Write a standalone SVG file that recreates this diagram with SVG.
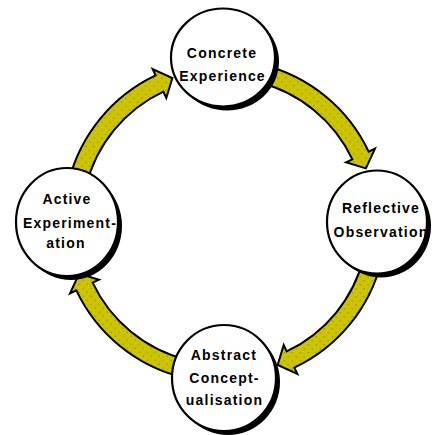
<svg xmlns="http://www.w3.org/2000/svg" width="432" height="435" viewBox="0 0 432 435">
  <defs>
    <!-- speckled olive-yellow fill for the cycle arrows -->
    <pattern id="speckle" width="8" height="8" patternUnits="userSpaceOnUse">
      <rect width="8" height="8" fill="#ccc400"/>
      <rect x="1" y="1" width="1.5" height="1.5" fill="#aaa200"/>
      <rect x="5" y="5" width="1.5" height="1.5" fill="#aaa200"/>
    </pattern>
    <path id="arc-arrow" d="M262.7,64.75 A160,160 0 0 1 368.66,151.62 L374.98,148.62 L365.89,168.36 L346.05,162.3 L352.38,159.31 A142,142 0 0 0 258.35,82.22 Z"/>
  </defs>
  <style>
    .arrow { fill: url(#speckle); stroke: #000; stroke-width: 2; stroke-linejoin: miter; }
    .shadow { fill: #000; }
    .disc { fill: #fff; stroke: #000; stroke-width: 2.2; }
    .label { font-family: "Liberation Sans", Arial, sans-serif; font-weight: bold; font-size: 14px; letter-spacing: 1.2px; text-anchor: middle; fill: #000; }
  </style>
  <rect width="432" height="435" fill="#fff"/>

  <g id="connectors">
    <use href="#arc-arrow" class="arrow"/>
    <use href="#arc-arrow" class="arrow" transform="translate(2,3) rotate(90 224 220)"/>
    <use href="#arc-arrow" class="arrow" transform="translate(-3,2) rotate(180 224 220)"/>
    <use href="#arc-arrow" class="arrow" transform="rotate(270 224 220)"/>
  </g>

  <g id="concrete-experience">
    <ellipse class="shadow" cx="227" cy="61.5" rx="52" ry="49"/>
    <ellipse class="disc" cx="223" cy="57.5" rx="52" ry="49"/>
    <text class="label" x="222" y="58">Concrete</text>
    <text class="label" x="222.5" y="81">Experience</text>
  </g>

  <g id="reflective-observation">
    <ellipse class="shadow" cx="381" cy="226" rx="50" ry="51.5"/>
    <ellipse class="disc" cx="377" cy="222" rx="50" ry="51.5"/>
    <text class="label" x="381" y="213">Reflective</text>
    <text class="label" x="381" y="237">Observation</text>
  </g>

  <g id="abstract-conceptualisation">
    <ellipse class="shadow" cx="228" cy="382" rx="52" ry="53"/>
    <ellipse class="disc" cx="224" cy="378" rx="52" ry="53"/>
    <text class="label" x="224" y="360">Abstract</text>
    <text class="label" x="224.5" y="383">Concept-</text>
    <text class="label" x="224.5" y="405">ualisation</text>
  </g>

  <g id="active-experimentation">
    <ellipse class="shadow" cx="71" cy="226" rx="51" ry="54"/>
    <ellipse class="disc" cx="67" cy="222" rx="51" ry="54"/>
    <text class="label" x="67" y="204">Active</text>
    <text class="label" x="70" y="228">Experiment-</text>
    <text class="label" x="66" y="248">ation</text>
  </g>
</svg>
